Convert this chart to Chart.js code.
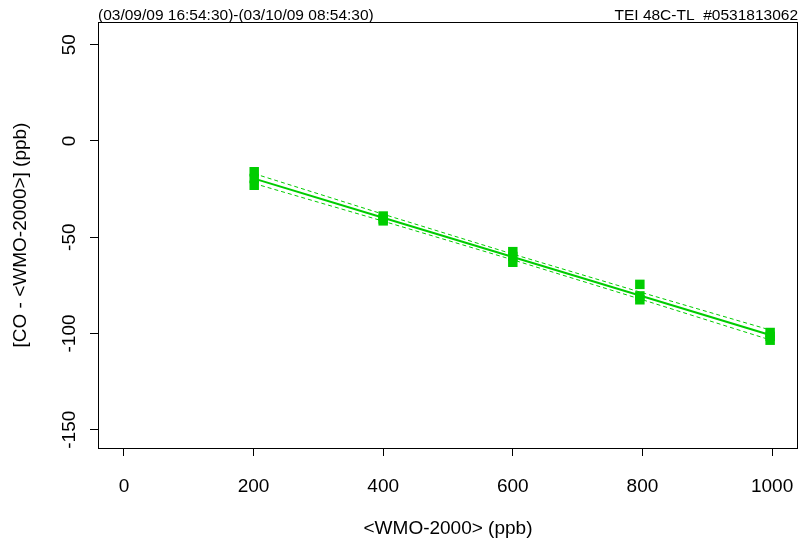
<!DOCTYPE html>
<html>
<head>
<meta charset="utf-8">
<script src="https://cdn.jsdelivr.net/npm/chart.js@4/dist/chart.umd.min.js"></script>
<style>
  html, body { margin: 0; padding: 0; background: #ffffff; }
  #wrap { width: 800px; height: 543px; }
</style>
</head>
<body>
<div id="wrap"><canvas id="c" width="800" height="543"></canvas></div>
<script>
// ---- data ----
const xValues = [201, 201, 201, 400, 400, 400, 600, 600, 600, 796, 796, 796, 997, 997, 997];
const yValues = [-16, -19.5, -23, -39, -40.5, -41.5, -57.5, -60, -63, -74.5, -80.5, -82.5, -99.5, -101.5, -103.5];
const xTicks = [0, 200, 400, 600, 800, 1000];
const yTicks = [-150, -100, -50, 0, 50];
const xRange = [-40, 1040];
const yRange = [-159.5, 61.8];
const headerLeft = "(03/09/09 16:54:30)-(03/10/09 08:54:30)";
const headerRight = "TEI 48C-TL  #0531813062";
const xTitle = "<WMO-2000> (ppb)";
const yTitle = "[CO - <WMO-2000>] (ppb)";
const GREEN = "#00CD00";

// ---- least-squares fit and 95% confidence band, derived from the data ----
const n = xValues.length;
const xbar = xValues.reduce((a, b) => a + b, 0) / n;
const ybar = yValues.reduce((a, b) => a + b, 0) / n;
let sxx = 0, sxy = 0;
for (let i = 0; i < n; i++) { sxx += (xValues[i] - xbar) ** 2; sxy += (xValues[i] - xbar) * (yValues[i] - ybar); }
const slope = sxy / sxx;
const icpt = ybar - slope * xbar;
let sse = 0;
for (let i = 0; i < n; i++) { sse += (yValues[i] - (icpt + slope * xValues[i])) ** 2; }
const sRes = Math.sqrt(sse / (n - 2));
const tCrit = 2.160; // t(0.975, 13)
const fitXs = Array.from(new Set(xValues)).sort((a, b) => a - b);
const fitLine = fitXs.map(x => ({ x, y: icpt + slope * x }));
const halfWidth = x => tCrit * sRes * Math.sqrt(1 / n + (x - xbar) ** 2 / sxx);
const upperBand = fitXs.map(x => ({ x, y: icpt + slope * x + halfWidth(x) }));
const lowerBand = fitXs.map(x => ({ x, y: icpt + slope * x - halfWidth(x) }));

const points = xValues.map((x, i) => ({ x, y: yValues[i] }));

const FONT = "'Liberation Sans', Arial, Helvetica, sans-serif";
const AXFONT = 19;

const framePlugin = {
  id: 'frame',
  afterDraw(chart) {
    const { ctx, chartArea: a } = chart;
    ctx.save();
    ctx.strokeStyle = '#000';
    ctx.lineWidth = 1;
    ctx.strokeRect(Math.round(a.left) + 0.5, Math.round(a.top) + 0.5,
                   Math.round(a.right - a.left) - 1, Math.round(a.bottom - a.top));
    ctx.fillStyle = '#000';
    ctx.font = '15.5px ' + FONT;
    ctx.textBaseline = 'alphabetic';
    ctx.textAlign = 'left';
    ctx.fillText(headerLeft, a.left, 20);
    ctx.textAlign = 'right';
    ctx.fillText(headerRight, a.right, 20);
    ctx.restore();
  }
};

new Chart(document.getElementById('c'), {
  type: 'scatter',
  data: {
    datasets: [
      {
        label: 'points',
        data: points,
        pointStyle: 'rect',
        pointRadius: 6.7,
        pointHoverRadius: 6.7,
        pointBorderWidth: 0,
        backgroundColor: GREEN,
        borderColor: GREEN,
        showLine: false
      },
      {
        label: 'fit',
        data: fitLine,
        showLine: true,
        borderColor: GREEN,
        borderWidth: 2,
        pointRadius: 0,
        fill: false
      },
      {
        label: 'upper',
        data: upperBand,
        showLine: true,
        borderColor: GREEN,
        borderWidth: 1,
        borderDash: [4, 3],
        pointRadius: 0,
        fill: false
      },
      {
        label: 'lower',
        data: lowerBand,
        showLine: true,
        borderColor: GREEN,
        borderWidth: 1,
        borderDash: [4, 3],
        pointRadius: 0,
        fill: false
      }
    ]
  },
  options: {
    responsive: false,
    animation: false,
    devicePixelRatio: 1,
    layout: { autoPadding: false, padding: { top: 22, right: 2, bottom: 0, left: 0 } },
    plugins: {
      legend: { display: false },
      tooltip: { enabled: false },
      title: { display: false }
    },
    scales: {
      x: {
        type: 'linear',
        position: 'bottom',
        min: xRange[0],
        max: xRange[1],
        afterBuildTicks: s => { s.ticks = xTicks.map(v => ({ value: v })); },
        afterFit: s => { s.height = 95; s.paddingLeft = 0; s.paddingRight = 0; },
        border: { display: false },
        grid: { display: true, drawOnChartArea: false, drawTicks: true, tickLength: 8, tickColor: '#000', tickWidth: 1 },
        ticks: { color: '#000', font: { family: FONT, size: AXFONT }, padding: 19, maxRotation: 0, minRotation: 0,
                 callback: v => String(v) },
        title: { display: true, text: xTitle, color: '#000', font: { family: FONT, size: AXFONT }, padding: { top: 3, bottom: 3 } }
      },
      y: {
        type: 'linear',
        position: 'left',
        min: yRange[0],
        max: yRange[1],
        afterBuildTicks: s => { s.ticks = yTicks.map(v => ({ value: v })); },
        afterFit: s => { s.width = 98; s.paddingTop = 0; s.paddingBottom = 0; },
        border: { display: false },
        grid: { display: true, drawOnChartArea: false, drawTicks: true, tickLength: 8, tickColor: '#000', tickWidth: 1 },
        ticks: { color: '#000', font: { family: FONT, size: AXFONT }, padding: 1, minRotation: 90, maxRotation: 90, crossAlign: 'center',
                 callback: v => String(v) },
        title: { display: true, text: yTitle, color: '#000', font: { family: FONT, size: AXFONT }, padding: { top: 9, bottom: 9 } }
      }
    }
  },
  plugins: [framePlugin]
});
</script>
</body>
</html>
